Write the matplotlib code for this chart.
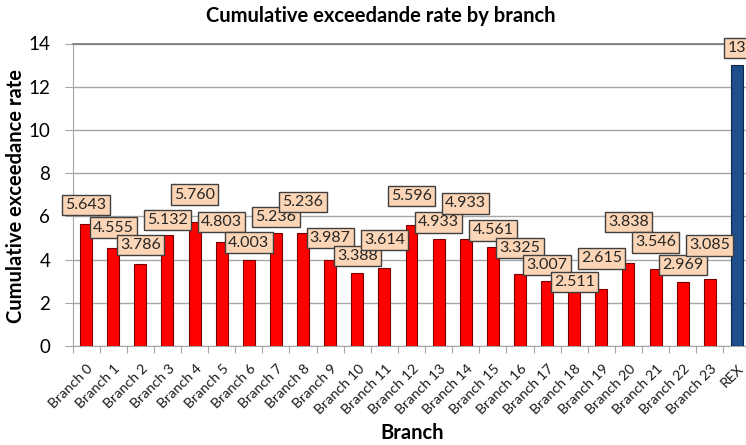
import matplotlib
matplotlib.use("Agg")
import matplotlib.pyplot as plt
from matplotlib.transforms import ScaledTranslation

# Data
categories = [f"Branch {i}" for i in range(24)] + ["REX"]
values = [5.643, 4.555, 3.786, 5.132, 5.760, 4.803, 4.003, 5.236, 5.236, 3.987,
          3.388, 3.614, 5.596, 4.933, 4.933, 4.561, 3.325, 3.007, 2.511, 2.615,
          3.838, 3.546, 2.969, 3.085, 13.0]
value_labels = [f"{v:.3f}" for v in values[:-1]] + ["13"]
y_ticks = [0, 2, 4, 6, 8, 10, 12, 14]

# Vertical placement of each value box above its bar (pixels)
label_lift = [19, 20, 19, 15, 27, 20, 17, 16, 31, 22, 17, 28, 29, 17, 36, 17,
              26, 16, 10, 31, 41, 27, 17, 34, 17]

plt.rcParams["font.family"] = ["Lato", "DejaVu Sans"]

W, H = 746, 445
fig = plt.figure(figsize=(W / 100, H / 100), dpi=100)
left, right, bottom, top = 72.5, 750.5, 346, 43.5
ax = fig.add_axes([left / W, (H - bottom) / H, (right - left) / W, (bottom - top) / H])

x = list(range(len(categories)))
colors = ["#FF0000"] * (len(categories) - 1) + ["#1F4E8C"]
edges = ["#7A0000"] * (len(categories) - 1) + ["#0F2747"]
ax.bar(x, values, width=0.44, color=colors, edgecolor=edges, linewidth=0.8, zorder=3)

ax.set_xlim(-0.5, len(categories) - 0.5)
ax.set_ylim(0, 14)
ax.set_yticks(y_ticks)
ax.yaxis.grid(True, color="#A6A6A6", linewidth=1.0, zorder=0)
ax.set_axisbelow(True)

ax.spines["right"].set_visible(False)
ax.spines["top"].set_color("#7F7F7F")
ax.spines["top"].set_linewidth(1.3)
ax.spines["left"].set_color("#A6A6A6")
ax.spines["bottom"].set_color("#A6A6A6")

ax.tick_params(axis="y", length=6, color="#A6A6A6", labelsize=13.5, pad=10)
# category boundaries carry the x tick marks
ax.set_xticks([i - 0.5 for i in x] + [len(x) - 0.5], minor=False)
ax.set_xticklabels([])
ax.tick_params(axis="x", length=5, color="#A6A6A6")
ax.set_xticks(x, minor=True)
ax.set_xticklabels(categories, minor=True, rotation=45, ha="right", va="center",
                   rotation_mode="anchor", fontsize=10.3, color="#1A1A1A")
ax.tick_params(axis="x", which="minor", length=0, pad=15)
shift = ScaledTranslation(5 / 100, 0, fig.dpi_scale_trans)
for lbl in ax.get_xticklabels(minor=True):
    lbl.set_transform(lbl.get_transform() + shift)

for i, (v, txt, lift) in enumerate(zip(values, value_labels, label_lift)):
    ax.annotate(txt, xy=(i, v), xytext=(0, lift), textcoords="offset pixels",
                ha="center", va="center", fontsize=11.5, color="#262626",
                annotation_clip=False, zorder=5,
                bbox=dict(boxstyle="square,pad=0.2", fc="#FBD5B5", ec="#404040", lw=1.0))

fig.text(381 / W, 1 - 16 / H, "Cumulative exceedande rate by branch",
         ha="center", va="center", fontsize=14.5, fontweight="bold")
fig.text(16 / W, 1 - 196 / H, "Cumulative exceedance rate", rotation=90,
         ha="center", va="center", fontsize=14.5, fontweight="bold")
fig.text(412 / W, 1 - 433 / H, "Branch", ha="center", va="center",
         fontsize=14.5, fontweight="bold")

fig.savefig("out.png", dpi=100)
